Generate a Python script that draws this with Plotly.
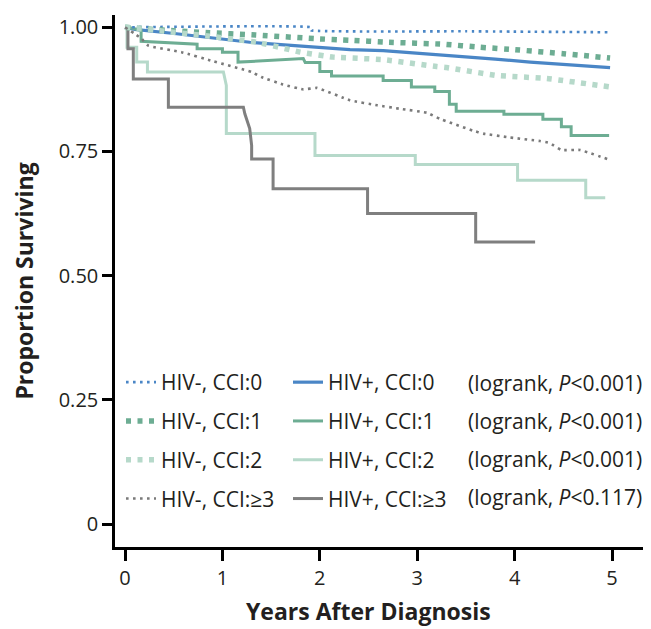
import plotly.graph_objects as go

# ---------------- data ----------------
years_hivneg_cci0 = [0, 1.91, 1.91, 3.5, 4.98]
surv_hivneg_cci0 = [1.0, 1.0, 0.994, 0.992, 0.990]

years_hivneg_cci1 = [0, 0.2, 0.5, 0.87, 1.3, 1.97, 2.3, 2.7, 3.27, 3.64, 4.0, 4.5, 4.98]
surv_hivneg_cci1 = [1.0, 0.997, 0.993, 0.989, 0.985, 0.977, 0.974, 0.970, 0.966, 0.960, 0.955, 0.947, 0.938]

years_hivneg_cci2 = [0, 0.36, 0.87, 1.35, 1.69, 1.8, 2.14, 2.65, 3.2, 3.3, 3.82, 4.33, 4.98]
surv_hivneg_cci2 = [1.0, 0.993, 0.982, 0.970, 0.955, 0.950, 0.940, 0.935, 0.921, 0.919, 0.903, 0.897, 0.880]

years_hivneg_cci3 = [0, 0.1, 0.17, 0.24, 0.58, 0.9, 1.3, 1.4, 1.62, 1.83, 1.97, 2.31, 2.59, 2.82,
                     3.1, 3.23, 3.57, 3.68, 3.92, 4.26, 4.36, 4.48, 4.67, 4.98]
surv_hivneg_cci3 = [1.0, 0.987, 0.977, 0.963, 0.950, 0.932, 0.910, 0.900, 0.885, 0.875, 0.878, 0.853,
                    0.843, 0.836, 0.828, 0.816, 0.792, 0.786, 0.779, 0.771, 0.767, 0.753, 0.753, 0.733]

years_hivpos_cci0 = [0, 0.1, 0.53, 1.0, 1.28, 1.6, 2.0, 2.31, 2.65, 3.3, 3.8, 4.16, 4.98]
surv_hivpos_cci0 = [1.0, 0.996, 0.987, 0.977, 0.970, 0.965, 0.959, 0.955, 0.953, 0.944, 0.936, 0.930, 0.919]

years_hivpos_cci1 = [0, 0.03, 0.165, 0.165, 0.74, 0.74, 1.0, 1.0, 1.16, 1.16, 1.83, 1.85, 2.0, 2.0,
                     2.12, 2.12, 2.65, 2.65, 2.94, 2.94, 3.18, 3.18, 3.33, 3.33, 3.40, 3.40, 3.89,
                     3.89, 4.29, 4.29, 4.48, 4.48, 4.58, 4.58, 4.97]
surv_hivpos_cci1 = [1.0, 1.0, 0.994, 0.972, 0.966, 0.957, 0.957, 0.950, 0.950, 0.930, 0.937, 0.929,
                    0.929, 0.911, 0.911, 0.902, 0.902, 0.893, 0.893, 0.880, 0.880, 0.871, 0.871,
                    0.845, 0.845, 0.831, 0.831, 0.825, 0.825, 0.815, 0.815, 0.800, 0.800, 0.782, 0.782]

years_hivpos_cci2 = [0, 0.02, 0.02, 0.12, 0.12, 0.23, 0.23, 1.01, 1.04, 1.04, 1.95, 1.95, 2.98, 2.98,
                     4.03, 4.03, 4.73, 4.73, 4.93]
surv_hivpos_cci2 = [1.0, 1.0, 0.960, 0.960, 0.930, 0.930, 0.910, 0.910, 0.883, 0.786, 0.786, 0.742,
                    0.742, 0.724, 0.724, 0.692, 0.692, 0.657, 0.657]

years_hivpos_cci3 = [0, 0.03, 0.03, 0.085, 0.085, 0.445, 0.445, 1.215, 1.23, 1.28, 1.30, 1.30, 1.52,
                     1.52, 2.49, 2.49, 3.60, 3.60, 4.21]
surv_hivpos_cci3 = [1.0, 1.0, 0.957, 0.957, 0.896, 0.896, 0.839, 0.839, 0.826, 0.796, 0.762, 0.735,
                    0.735, 0.675, 0.675, 0.625, 0.625, 0.568, 0.568]

names_hivneg = ["HIV-, CCI:0", "HIV-, CCI:1", "HIV-, CCI:2", "HIV-, CCI:\u22653"]
names_hivpos = ["HIV+, CCI:0", "HIV+, CCI:1", "HIV+, CCI:2", "HIV+, CCI:\u22653"]
logrank_labels = ["(logrank, <i>P</i>&lt;0.001)", "(logrank, <i>P</i>&lt;0.001)",
                  "(logrank, <i>P</i>&lt;0.001)", "(logrank, <i>P</i>&lt;0.117)"]

x_ticks = [0, 1, 2, 3, 4, 5]
y_ticks = [0, 0.25, 0.5, 0.75, 1.0]
y_tick_labels = ["0", "0.25", "0.50", "0.75", "1.00"]

# ---------------- styling ----------------
BLUE = "#4a86c6"
GREEN = "#6dad93"
LIGHT = "#b6d9ca"
DARK_GRAY = "#7f7f7f"
DOT_GRAY = "#7a7a7a"
TXT = "#231f20"
FONT = "Open Sans"
TEXT_SIZE = 21
TICK_SIZE = 20
TITLE_SIZE = 23

neg_series = [
    (years_hivneg_cci0, surv_hivneg_cci0, BLUE, 2.6, "2.6px,4.4px"),
    (years_hivneg_cci1, surv_hivneg_cci1, GREEN, 5.5, "5px,6.5px"),
    (years_hivneg_cci2, surv_hivneg_cci2, LIGHT, 5.5, "5px,6.5px"),
    (years_hivneg_cci3, surv_hivneg_cci3, DOT_GRAY, 2.6, "2.6px,4.4px"),
]
pos_series = [
    (years_hivpos_cci0, surv_hivpos_cci0, BLUE, 3.2),
    (years_hivpos_cci1, surv_hivpos_cci1, GREEN, 3.0),
    (years_hivpos_cci2, surv_hivpos_cci2, LIGHT, 3.0),
    (years_hivpos_cci3, surv_hivpos_cci3, DARK_GRAY, 3.0),
]

fig = go.Figure()

for i, (xs, ys, col, w) in enumerate(pos_series):
    fig.add_trace(go.Scatter(
        x=xs, y=ys, mode="lines", name=names_hivpos[i],
        line=dict(color=col, width=w, shape="linear"),
        legend="legend2", legendgroup="p%d" % i, legendrank=i + 1,
        hoverinfo="skip",
    ))
for i, (xs, ys, col, w, dash) in enumerate(neg_series):
    fig.add_trace(go.Scatter(
        x=xs, y=ys, mode="lines", name=names_hivneg[i],
        line=dict(color=col, width=w, dash=dash, shape="spline", smoothing=0.3),
        legend="legend", legendgroup="n%d" % i, legendrank=i + 1,
        hoverinfo="skip",
    ))

# the page body adds an 8px margin, so the figure is drawn 8px in from the window edge
OFF = 8
W, H = 651 - OFF, 629 - OFF
ML, MR, MT, MB = 115 - OFF, 0, 15 - OFF, 82
plot_w = W - ML - MR
plot_h = H - MT - MB

def px_x(p):
    return (p - OFF - ML) / plot_w

def px_y(p):
    return 1 - (p - OFF - MT) / plot_h

legend_common = dict(
    orientation="v", bgcolor="rgba(0,0,0,0)", borderwidth=0,
    font=dict(family=FONT, size=TEXT_SIZE, color=TXT),
    itemwidth=30, tracegroupgap=8.5, xanchor="left", yanchor="top",
    itemclick=False, itemdoubleclick=False, traceorder="grouped",
)

row_centers = [383, 421, 459, 497]

fig.update_layout(
    width=W, height=H,
    margin=dict(l=ML, r=MR, t=MT, b=MB, autoexpand=False),
    paper_bgcolor="white", plot_bgcolor="white",
    font=dict(family=FONT, size=TEXT_SIZE, color=TXT),
    showlegend=True,
    legend=dict(legend_common, x=px_x(121), y=px_y(362)),
    legend2=dict(legend_common, x=px_x(288), y=px_y(362)),
    xaxis=dict(
        range=[-0.103, 5.40], tickvals=x_ticks, ticktext=[str(t) for t in x_ticks],
        showgrid=False, zeroline=False, showline=True, linecolor="black", linewidth=2.5,
        ticks="outside", ticklen=11, tickwidth=2.5, tickcolor="black",
        tickfont=dict(family=FONT, size=TICK_SIZE, color=TXT), automargin=False,
    ),
    yaxis=dict(
        range=[-0.0463, 1.0248], tickvals=y_ticks, ticktext=y_tick_labels,
        showgrid=False, zeroline=False, showline=True, linecolor="black", linewidth=2.5,
        ticks="outside", ticklen=10, tickwidth=2.5, tickcolor="black",
        tickfont=dict(family=FONT, size=TICK_SIZE, color=TXT), automargin=False,
        title=dict(text="<b>Proportion Surviving</b>", standoff=27,
                   font=dict(family=FONT, size=TITLE_SIZE, color=TXT)),
    ),
)

annotations = []
for lbl, rc in zip(logrank_labels, row_centers):
    annotations.append(dict(
        text=lbl, xref="paper", yref="paper", x=px_x(466), y=px_y(rc),
        xanchor="left", yanchor="middle", showarrow=False,
        font=dict(family=FONT, size=TEXT_SIZE, color=TXT),
    ))
annotations.append(dict(
    text="<b>Years After Diagnosis</b>", xref="x", yref="paper", x=2.5, y=px_y(611),
    xanchor="center", yanchor="middle", showarrow=False,
    font=dict(family=FONT, size=TITLE_SIZE, color=TXT),
))
fig.update_layout(annotations=annotations)

fig.write_html("out.html")
